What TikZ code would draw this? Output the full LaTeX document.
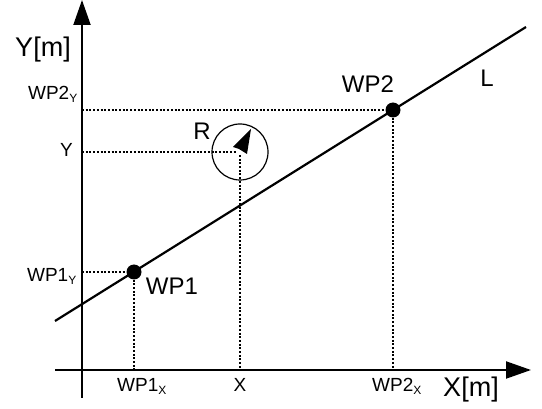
\documentclass[tikz,border=0pt]{standalone}
\usepackage{fontspec}
\setmainfont{Liberation Sans}
\usetikzlibrary{positioning, arrows.meta, calc}

\begin{document}
\begin{tikzpicture}[x=1pt, y=-1pt, font=\fontsize{19}{22}\selectfont,
    axis/.style={line width=2pt, -{Triangle[length=25pt, width=17pt]}},
    guide/.style={line width=2pt, dash pattern=on 2pt off 1.7pt},
    waypoint/.style={circle, fill, inner sep=0pt, minimum size=15pt},
    robot/.style={circle, draw, line width=1.2pt, inner sep=0pt, minimum size=56pt},
    big/.style={font=\fontsize{24}{28}\selectfont, inner sep=0pt},
    tick/.style={inner sep=0pt}]
    \useasboundingbox (0,0) rectangle (542,409);

    % axes
    \coordinate (o) at (82,370);
    \coordinate (xs) at (55,370);
    \coordinate (xe) at (531,370);
    \coordinate (ys) at (82,398);
    \coordinate (ye) at (82,0);
    \draw[axis] (xs) -- (xe);
    \draw[axis] (ys) -- (ye);
    \node[big, font=\fontsize{27}{30}\selectfont, anchor=base] (ylab) at (43,57) {Y[m]};
    \node[big, font=\fontsize{27}{30}\selectfont, anchor=base] (xlab) at (471,397) {X[m]};

    % line through the waypoints
    \coordinate (ls) at (55,321);
    \coordinate (le) at (526,27);
    \draw[line width=2.2pt] (ls) -- (le);
    \node[big, anchor=base] (llab) at (487,87) {L};

    \node[waypoint] (wp1) at (134,272) {};
    \node[waypoint] (wp2) at (393,110) {};
    \node[big, anchor=base] (wp1lab) at (172,295) {WP1};
    \node[big, anchor=base] (wp2lab) at (368,93) {WP2};

    % robot
    \node[robot] (r) at (240,152) {};
    \node[big, anchor=base] (rlab) at (202,140) {R};
    \fill ($(r.center)+(11,-23)$) -- ($(r.center)+(-7,-5)$)
        -- ($(r.center)+(-1,-3)$) -- ($(r.center)+(7,2)$) -- cycle;

    % projections
    \draw[guide] (o |- wp1) -- (wp1) -- (wp1 |- o);
    \draw[guide] (o |- wp2) -- (wp2) -- (wp2 |- o);
    \draw[guide] (o |- r) -- ($(r.center)+(-4,0)$);
    \draw[guide] ($(r.center)+(0,3)$) -- (r |- o);

    \node[tick, anchor=base east] (wp2y) at (78,100) {WP2$_{\textrm{\fontsize{12}{12}\selectfont Y}}$};
    \node[tick, anchor=base east] (ry) at (73,157) {Y};
    \node[tick, anchor=base east] (wp1y) at (77,282) {WP1$_{\textrm{\fontsize{12}{12}\selectfont Y}}$};
    \node[tick, anchor=base] (wp1x) at (142,392) {WP1$_{\textrm{\fontsize{12}{12}\selectfont X}}$};
    \node[tick, anchor=base] (rx) at (240,392) {X};
    \node[tick, anchor=base] (wp2x) at (397,392) {WP2$_{\textrm{\fontsize{12}{12}\selectfont X}}$};
\end{tikzpicture}
\end{document}
